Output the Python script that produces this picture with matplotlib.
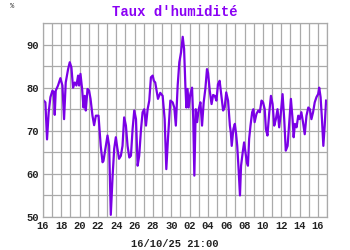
import matplotlib
matplotlib.use('Agg')
import matplotlib.pyplot as plt
import numpy as np

# days since 16/09 00:00, relative humidity in %
days = [0.08, 0.26, 0.44, 0.62, 0.81, 1.03, 1.17, 1.28, 1.39, 1.64, 1.9, 2.12, 2.3, 2.48,
        2.74, 2.92, 3.1, 3.28, 3.47, 3.65, 3.83, 3.94, 4.09, 4.27, 4.42, 4.56, 4.67, 4.86,
        5.03, 5.19, 5.4, 5.58, 5.77, 6.06, 6.3, 6.5, 6.6, 6.86, 7.04, 7.22, 7.4, 7.6,
        7.77, 7.95, 8.1, 8.3, 8.5, 8.68, 8.86, 9.05, 9.23, 9.42, 9.6, 9.78, 9.96, 10.15,
        10.33, 10.5, 10.7, 10.87, 11.05, 11.24, 11.42, 11.6, 11.78, 11.97, 12.1, 12.25,
        12.55, 12.8, 13.06, 13.28, 13.46, 13.64, 13.9, 14.15, 14.33, 14.5, 14.7, 14.88,
        15.07, 15.25, 15.4, 15.54, 15.65, 15.78, 15.9, 16.08, 16.27, 16.4, 16.52, 16.67,
        16.82, 17.0, 17.18, 17.36, 17.54, 17.72, 17.9, 18.02, 18.2, 18.4, 18.57, 18.75,
        18.93, 19.1, 19.28, 19.47, 19.66, 19.83, 20.0, 20.2, 20.4, 20.5, 20.6, 20.78,
        20.94, 21.08, 21.2, 21.35, 21.5, 21.62, 21.8, 21.95, 22.1, 22.25, 22.37, 22.5,
        22.65, 22.83, 22.96, 23.1, 23.3, 23.5, 23.67, 23.85, 24.02, 24.2, 24.33, 24.5,
        24.7, 24.88, 25.06, 25.24, 25.42, 25.6, 25.78, 25.97, 26.15, 26.33, 26.5, 26.7,
        26.9, 27.06, 27.24, 27.36, 27.5, 27.68, 27.86, 28.03, 28.2, 28.38, 28.57, 28.76,
        28.96, 29.13, 29.3, 29.48, 29.66, 29.85, 30.03, 30.15, 30.3, 30.45, 30.6, 30.75,
        30.9]
humidity = [77, 76.6, 68, 74.3, 77.8, 79.3, 79, 73.7, 79.3, 80.5, 82.2, 80.5, 72.7, 81.2,
            84.3, 85.9, 84.7, 80, 81.2, 80.5, 82.8, 80.5, 83.2, 79.7, 75.4, 78.1, 74.7, 79.7,
            79.3, 77.4, 73.5, 71.3, 73.5, 73.5, 66.5, 62.7, 63, 66.5, 68.9, 66.5, 50.5, 59.6,
            65.8, 68.5, 66.2, 63.5, 64.2, 66.5, 73.1, 71.2, 66.5, 63.8, 64.2, 70.4, 74.7, 72.7,
            61.9, 64.2, 70.4, 74.3, 75, 71.2, 75, 77, 82.4, 82.8, 81.6, 81.2,
            77.4, 78.8, 78.1, 72.7, 61.1, 68.1, 77, 76.6, 75.4, 71.2, 80.5, 85.9,
            88.2, 91.8, 89, 80.5, 75.4, 79.7, 75.4, 78.5, 80, 72.7, 59.6, 75,
            72, 75, 76.6, 71.2, 76.6, 79.7, 84.3, 83.4, 79.3, 76.2, 78.3, 78.1,
            77, 80.8, 81.6, 78.1, 74.7, 75.4, 78.9, 77, 71.2, 69.6, 66.5, 70.4,
            71.6, 69.2, 66.5, 61.1, 55, 61.9, 65, 67.3, 65, 62.7, 61.9, 68.1,
            71.2, 74.3, 75, 72, 73.9, 74.7, 74.3, 77, 76.6, 75, 70.4, 68.9,
            74.3, 78.1, 76.2, 71.2, 72.7, 75, 70.8, 74.3, 78.5, 72.7, 65.4, 66.5,
            72.7, 77.4, 72.7, 68.5, 71.6, 70.8, 73.5, 72.7, 74.3, 72, 69.2, 73.5,
            75.4, 75, 72.7, 74.3, 76.6, 77.8, 78.5, 80, 77.8, 72.7, 66.5, 71.2,
            77]
tick_pos = list(range(0, 31, 2))
tick_labels = ['16', '18', '20', '22', '24', '26', '28', '30', '02', '04',
               '06', '08', '10', '12', '14', '16']

mono = 'Liberation Mono'
fig = plt.figure(figsize=(3.5, 2.5), dpi=100)
ax = fig.add_axes([43/350, 33/250, 284/350, 194/250])
ax.plot(days, humidity, color='#7a00e6', lw=1.6, solid_joinstyle='round')
ax.set_xlim(0, 31)
ax.set_ylim(50, 95)
ax.set_xticks(np.arange(0, 32, 1), minor=True)
ax.set_xticks(tick_pos)
ax.set_xticklabels(tick_labels, fontfamily=mono, fontweight='bold', fontsize=7.5, color='#222222')
ax.set_yticks(np.arange(50, 96, 5), minor=True)
ax.set_yticks([50, 60, 70, 80, 90])
ax.set_yticklabels(['50', '60', '70', '80', '90'], fontfamily=mono, fontweight='bold',
                   fontsize=7.5, color='#222222')
ax.tick_params(which='both', length=0, pad=3)
ax.grid(which='both', color='#aaaaaa', lw=0.9)
ax.set_axisbelow(True)
for s in ax.spines.values():
    s.set_color('#aaaaaa')
    s.set_linewidth(0.9)

fig.text(0.5, 1 - 12/250, "Taux d'humidité", ha='center', va='center', fontfamily=mono,
         fontweight='bold', fontsize=10, color='#8a00f5')
fig.text(12/350, 1 - 6/250, '%', ha='center', va='center', fontfamily=mono, fontsize=5,
         color='#333333')
fig.text(175/350, 1 - 244/250, '16/10/25 21:00', ha='center', va='center', fontfamily=mono,
         fontweight='bold', fontsize=7.5, color='#222222')
fig.savefig('out.png', dpi=100)
